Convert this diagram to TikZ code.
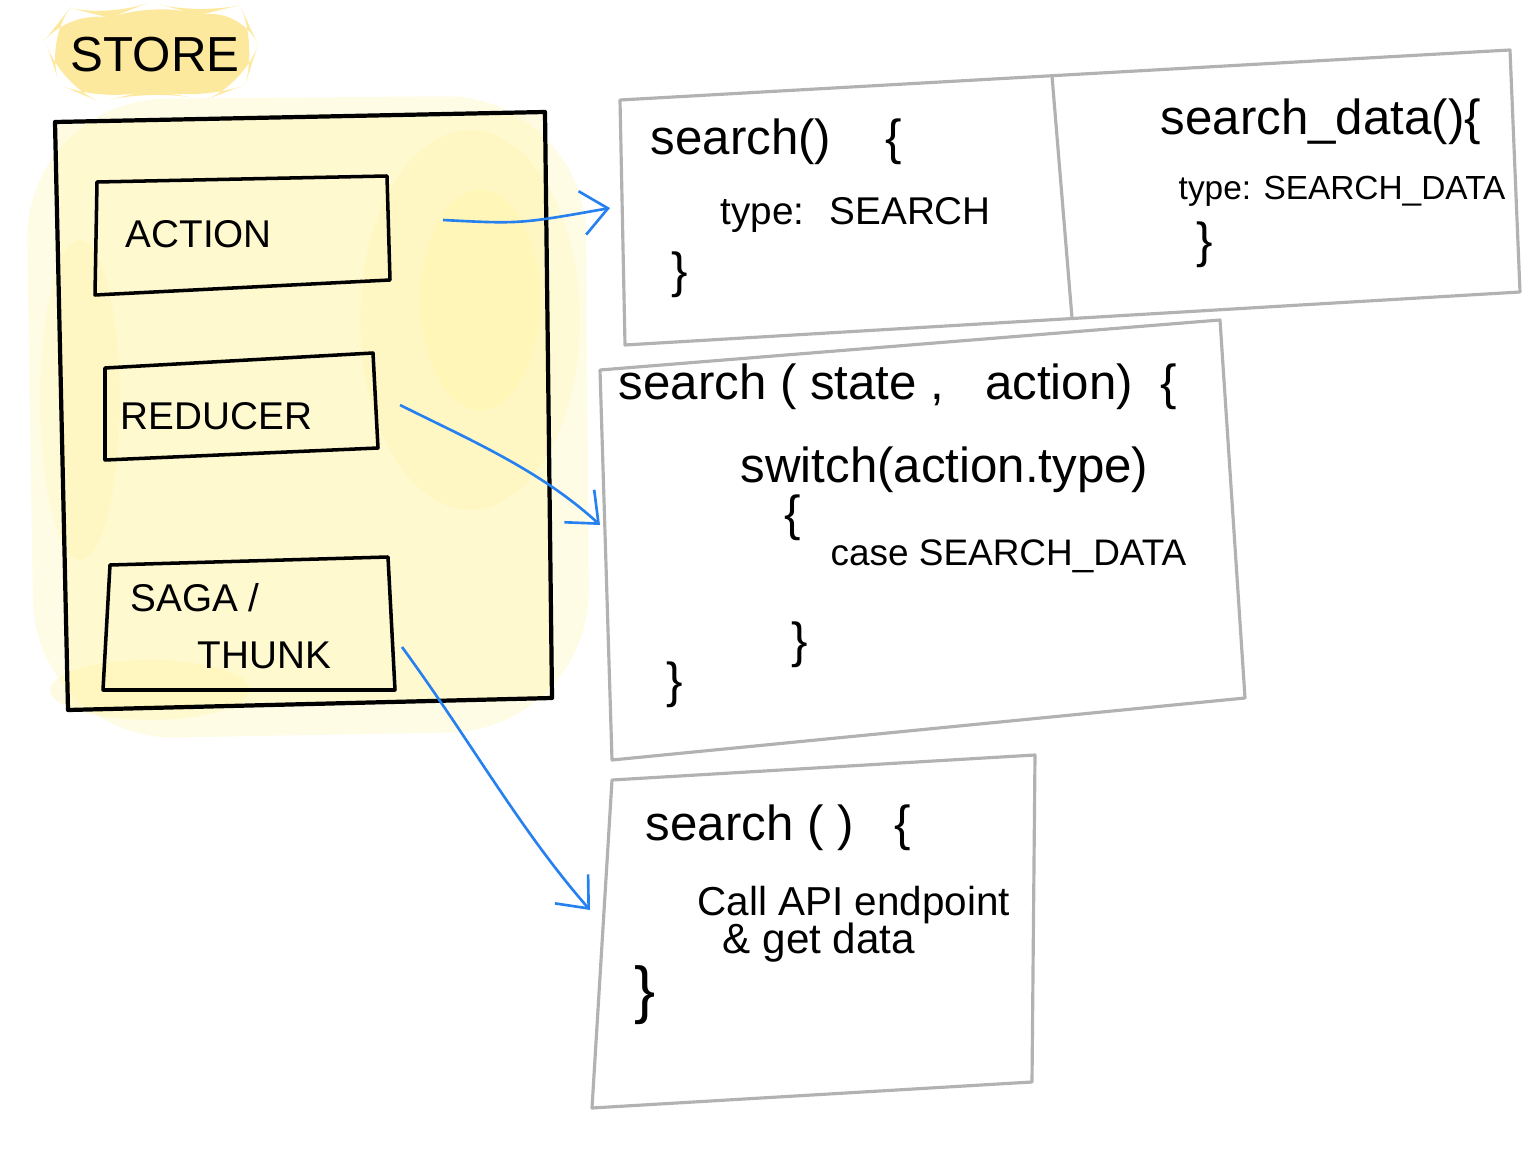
\documentclass[tikz,border=0pt]{standalone}
\usepackage{fontspec}
\setmainfont{Liberation Sans}
\usetikzlibrary{arrows.meta,positioning,backgrounds,calc}
\definecolor{storeglow}{RGB}{252,224,115}
\definecolor{boxglow}{RGB}{255,240,140}
\definecolor{flowblue}{RGB}{38,128,240}

\begin{document}
\begin{tikzpicture}[x=0.01cm,y=-0.01cm,
    sketch/.style={line width=1pt,line join=round},
    codebox/.style={draw=gray!60,line width=0.9pt,line join=round},
    flow/.style={draw=flowblue,line width=0.75pt,-{Straight Barb[length=2.6mm,width=4.4mm]}},
    code/.style={anchor=base west,inner sep=0pt,font=\fontsize{14}{16}\selectfont},
    small/.style={anchor=base west,inner sep=0pt,font=\fontsize{12}{14}\selectfont},
    label/.style={anchor=base west,inner sep=0pt,font=\fontsize{11}{13}\selectfont},
    brace/.style={inner sep=0pt,font=\fontsize{14}{16}\selectfont}]
\useasboundingbox (0,0) rectangle (1536,1164);

% yellow glow behind the store
\begin{scope}[on background layer]
    \fill[boxglow,opacity=.22,rounded corners=40] (25,100) -- (585,95) -- (590,730) -- (35,740) -- cycle;
    \fill[boxglow,opacity=.25] (55,122) -- (545,112) -- (552,698) -- (68,710) -- cycle;
    \fill[boxglow,opacity=.18] (470,320) ellipse [x radius=110,y radius=190];
    \fill[boxglow,opacity=.2] (480,300) ellipse [x radius=60,y radius=110];
    \fill[boxglow,opacity=.18] (80,400) ellipse [x radius=40,y radius=160];
    \fill[boxglow,opacity=.25] (150,690) ellipse [x radius=100,y radius=30];
    \fill[storeglow,opacity=.7,rounded corners=12] (45,40) -- (70,8) -- (110,18) -- (150,2) -- (200,15) -- (240,5) -- (258,45) -- (245,85) -- (205,100) -- (150,90) -- (100,102) -- (60,85) -- cycle;
\end{scope}

\node[anchor=base west,inner sep=0pt,font=\fontsize{14}{17}\selectfont] (store) at (70,72) {STORE};

% store and its parts
\draw[sketch,line width=1.2pt] (55,122) -- (545,112) -- (552,698) -- (68,710) -- cycle;
\draw[sketch] (97,182) -- (387,176) -- (390,280) -- (95,295) -- cycle;
\node[label] (action) at (125,248) {ACTION};
\draw[sketch] (105,368) -- (373,353) -- (378,448) -- (105,460) -- cycle;
\node[label] (reducer) at (120,430) {REDUCER};
\draw[sketch] (110,565) -- (388,557) -- (395,690) -- (103,690) -- cycle;
\node[label] (saga) at (130,612) {SAGA /};
\node[label] (thunk) at (197,668) {THUNK};

% action creators
\draw[codebox] (620,100) -- (1510,50) -- (1520,292) -- (625,345) -- cycle;
\draw[codebox] (1052,76) -- (1072,318);
\node[code] (search-act) at (650,155) {search()~~~~\{};
\node[anchor=base west,inner sep=0pt,font=\fontsize{11}{13}\selectfont] (type-act) at (720,225) {type:~ SEARCH};
\node[brace] (search-act-end) at (680,275) {\}};
\node[code] (data-act) at (1160,135) {search\_data()\{};
\node[anchor=base west,inner sep=0pt,font=\fontsize{9.5}{11}\selectfont] (type-data) at (1178,200) {type: SEARCH\_DATA};
\node[brace] (data-act-end) at (1205,245) {\}};

% reducer
\draw[codebox] (600,370) -- (1220,320) -- (1245,698) -- (612,760) -- cycle;
\node[code] (search-red) at (618,400) {search ( state ,~~~action)~~\{};
\node[code] (switch) at (740,483) {switch(action.type)};
\node[brace] (switch-open) at (793,518) {\{};
\node[anchor=base west,inner sep=0pt,font=\fontsize{10.5}{12}\selectfont] (case) at (830,565) {case SEARCH\_DATA};
\node[brace] (switch-end) at (800,645) {\}};
\node[brace] (search-red-end) at (675,685) {\}};

% saga / thunk
\draw[codebox] (612,780) -- (1035,755) -- (1032,1082) -- (592,1108) -- cycle;
\node[code] (search-saga) at (645,840) {search ( )~~~\{};
\node[anchor=base west,inner sep=0pt,font=\fontsize{11.5}{13}\selectfont] (call) at (697,915) {Call API endpoint};
\node[small] (get) at (722,953) {\& get data};
\node[brace,font=\fontsize{18}{20}\selectfont] (search-saga-end) at (645,995) {\}};

% connectors
\coordinate (act-out) at (443,220);
\coordinate (act-in) at (610,208);
\coordinate (red-out) at (400,405);
\coordinate (red-in) at (600,525);
\coordinate (saga-out) at (402,647);
\coordinate (saga-in) at (590,910);
\draw[flow] (act-out) .. controls (520,224) .. (act-in);
\draw[flow] (red-out) .. controls (470,440) and (540,470) .. (red-in);
\draw[flow] (saga-out) .. controls (470,740) and (520,830) .. (saga-in);
\end{tikzpicture}
\end{document}
